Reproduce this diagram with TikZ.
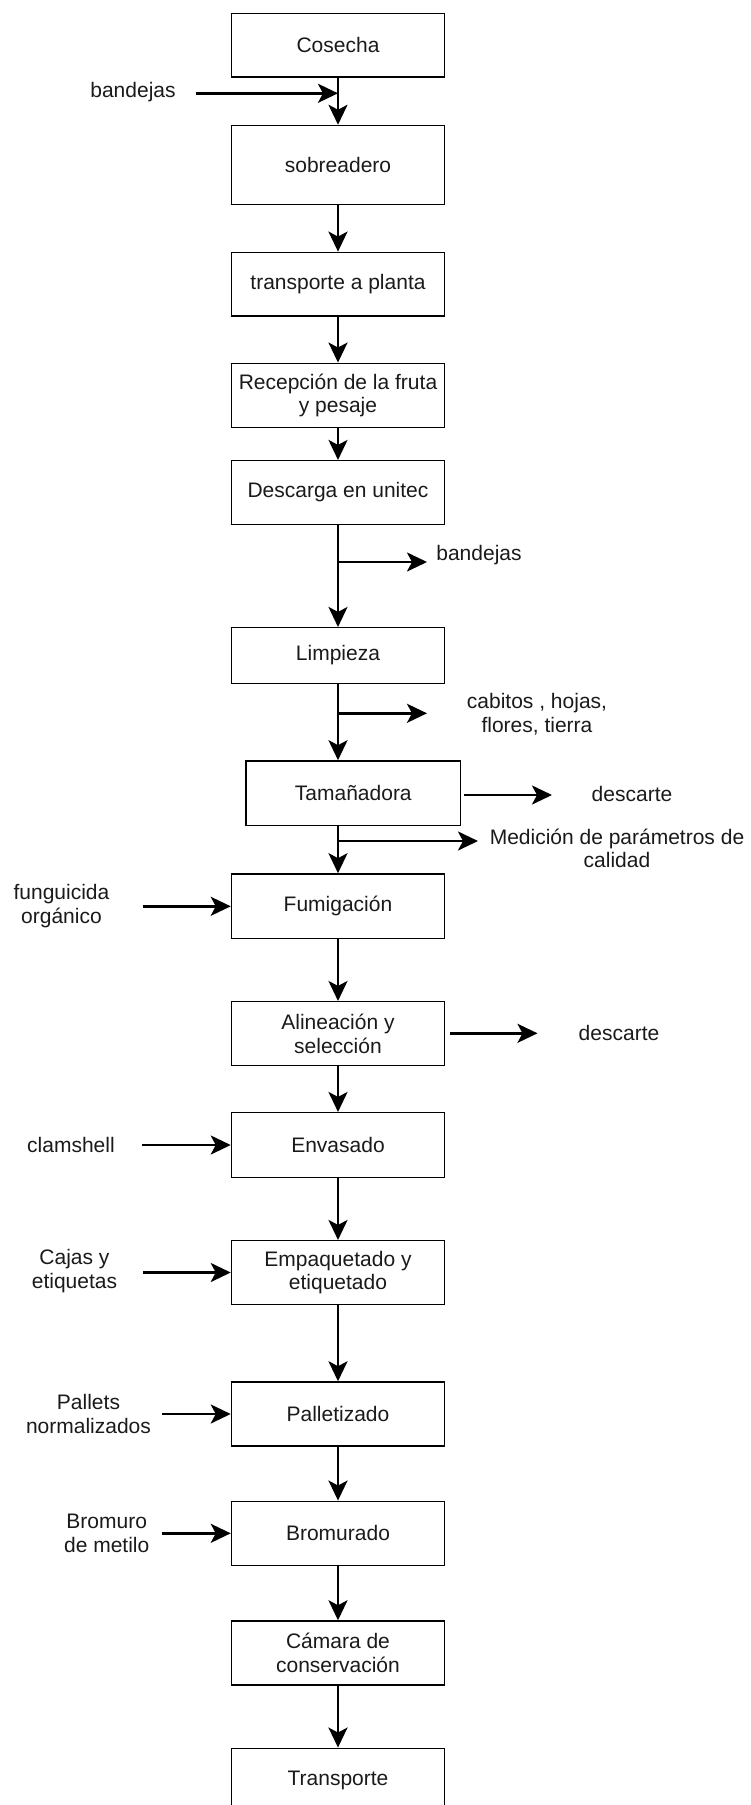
\documentclass[tikz,border=0pt]{standalone}
\usepackage{fontspec}
\setmainfont{Liberation Sans}
\usetikzlibrary{arrows.meta,positioning}
\definecolor{txtgris}{HTML}{1A1A1A}

\begin{document}
\begin{tikzpicture}[x=1pt,y=-1pt,
    font=\fontsize{21}{23.5}\selectfont,
    caja/.style={draw, line width=1.5pt, minimum width=213pt, inner sep=0pt, align=center, text=txtgris},
    etiqueta/.style={align=center, inner sep=0pt, text=txtgris},
    flecha/.style={line width=2.6pt, -{Stealth[length=20pt,width=19pt,inset=5pt]}}]
    % Canvas
    \useasboundingbox (0,0) rectangle (750,1805);
    % Process boxes
    \node[caja, minimum height=63.5pt] (cosecha) at (338,45.3) {Cosecha};
    \node[caja, minimum height=79pt] (sobre) at (338,165) {sobreadero};
    \node[caja, minimum height=63.7pt] (transp) at (338,284.2) {transporte a planta};
    \node[caja, minimum height=64pt] (recep) at (338,395.3) {Recepción de la fruta\\y pesaje};
    \node[caja, minimum height=63.6pt] (descarga) at (338,492.5) {Descarga en unitec};
    \node[caja, minimum height=55.6pt] (limpieza) at (338,655.5) {Limpieza};
    \node[caja, minimum height=64.7pt, minimum width=214.6pt] (tamano) at (353.3,793.3) {Tamañadora};
    \node[caja, minimum height=64.7pt] (fumig) at (338,906.3) {Fumigación};
    \node[caja, minimum height=64pt] (alin) at (338,1033.7) {Alineación y\\selección};
    \node[caja, minimum height=64.6pt] (envas) at (338,1145) {Envasado};
    \node[caja, minimum height=63.6pt] (empaq) at (338,1272.5) {Empaquetado y\\etiquetado};
    \node[caja, minimum height=64pt] (pallet) at (338,1414) {Palletizado};
    \node[caja, minimum height=64pt] (bromu) at (338,1533.3) {Bromurado};
    \node[caja, minimum height=64pt] (camara) at (338,1653) {Cámara de\\conservación};
    \node[caja, minimum height=64pt] (transporte) at (338,1780.3) {Transporte};
    % Inputs and outputs
    \node[etiqueta] (bandejasIn) at (133,92) {bandejas};
    \node[etiqueta] (bandejasOut) at (479,555) {bandejas};
    \node[etiqueta] (cabitos) at (537,714.2) {cabitos , hojas,\\flores, tierra};
    \node[etiqueta] (descarte1) at (632,794) {descarte};
    \node[etiqueta] (medicion) at (617,848.4) {Medición de parámetros de\\calidad};
    \node[etiqueta] (funguicida) at (61.5,906) {funguicida\\orgánico};
    \node[etiqueta] (descarte2) at (619,1033) {descarte};
    \node[etiqueta] (clamshell) at (71,1145) {clamshell};
    \node[etiqueta] (cajas) at (74.5,1271.3) {Cajas y\\etiquetas};
    \node[etiqueta] (pallets) at (88.5,1413.8) {Pallets\\normalizados};
    \node[etiqueta] (bromuro) at (106.7,1533.3) {Bromuro\\de metilo};
    % Free ends of side arrows
    \coordinate (pBandIn) at (196,93.3);
    \coordinate (pBandOut) at (338,562);
    \coordinate (qBandOut) at (427,562);
    \coordinate (pCabitos) at (338,713.3);
    \coordinate (qCabitos) at (427,713.3);
    \coordinate (pDesc1) at (464,795);
    \coordinate (qDesc1) at (552,795);
    \coordinate (pMedic) at (338,841);
    \coordinate (qMedic) at (478,841);
    \coordinate (pFung) at (143,906.3);
    \coordinate (pDesc2) at (450,1033.3);
    \coordinate (qDesc2) at (537.5,1033.3);
    \coordinate (pClam) at (142,1145);
    \coordinate (pCajas) at (143,1272.5);
    \coordinate (pPallets) at (161.5,1414);
    \coordinate (pBromuro) at (161.5,1533.3);
    % Main flow
    \draw[flecha] (cosecha) -- (sobre);
    \draw[flecha] (sobre) -- (transp);
    \draw[flecha] (transp) -- (recep);
    \draw[flecha] (recep) -- (descarga);
    \draw[flecha] (descarga) -- (limpieza);
    \draw[flecha] (limpieza.south) -- (limpieza.south |- tamano.north);
    \draw[flecha] (tamano.south -| fumig.north) -- (fumig.north);
    \draw[flecha] (fumig) -- (alin);
    \draw[flecha] (alin) -- (envas);
    \draw[flecha] (envas) -- (empaq);
    \draw[flecha] (empaq) -- (pallet);
    \draw[flecha] (pallet) -- (bromu);
    \draw[flecha] (bromu) -- (camara);
    \draw[flecha] (camara) -- (transporte);
    % Side arrows
    \draw[flecha] (pBandIn) -- (pBandIn -| cosecha.south);
    \draw[flecha] (pBandOut) -- (qBandOut);
    \draw[flecha] (pCabitos) -- (qCabitos);
    \draw[flecha] (pDesc1) -- (qDesc1);
    \draw[flecha] (pMedic) -- (qMedic);
    \draw[flecha] (pFung) -- (pFung -| fumig.west);
    \draw[flecha] (pDesc2) -- (qDesc2);
    \draw[flecha] (pClam) -- (pClam -| envas.west);
    \draw[flecha] (pCajas) -- (pCajas -| empaq.west);
    \draw[flecha] (pPallets) -- (pPallets -| pallet.west);
    \draw[flecha] (pBromuro) -- (pBromuro -| bromu.west);
\end{tikzpicture}
\end{document}
